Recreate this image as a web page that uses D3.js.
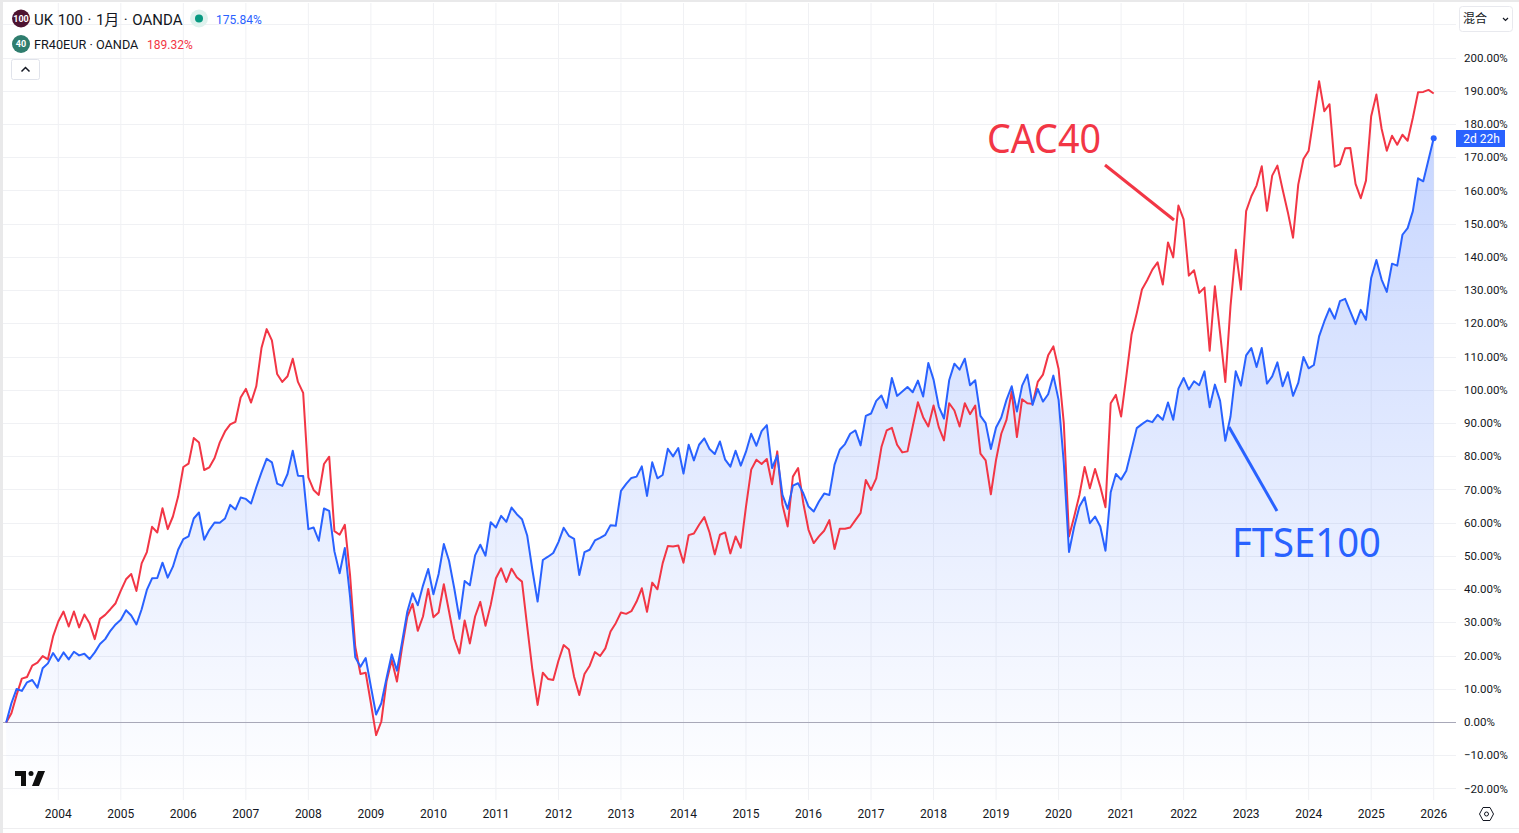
<!DOCTYPE html>
<html>
<head>
<meta charset="utf-8">
<script src="https://cdnjs.cloudflare.com/ajax/libs/d3/7.8.5/d3.min.js"></script>
<style>
html, body { margin: 0; padding: 0; background: #fff; overflow: hidden; }
svg { display: block; }
text { font-family: Roboto, "Noto Sans CJK SC", sans-serif; }
.tick-label { font-size: 12px; fill: #131722; }
</style>
</head>
<body>
<svg id="chart" width="1519" height="833"></svg>
<script>
var startDate = new Date(2003, 2, 1);

var ftseValues = [
  0, 5.8, 10.1, 9.5, 12.1, 12.8, 10.5, 16.3, 17.8, 20.9, 18.5, 21.1, 19, 21.3, 20.2, 20.7, 19.1, 21.1, 23.6, 25.1,
  27.6, 29.5, 30.9, 33.8, 32.2, 29.5, 34.1, 39.9, 43.4, 43.5, 48.1, 43.6, 46.9, 52, 55.2, 56, 61.4, 63.2, 55, 58,
  60.2, 60.1, 61.4, 65.5, 64.1, 67.7, 67.3, 65.9, 70.8, 75.3, 79.4, 78.3, 71.9, 71.2, 74.8, 81.8, 74.3, 74.2, 58.2, 58.7,
  54.7, 64.4, 63.7, 51.5, 44.9, 52.5, 37.9, 19.6, 16.8, 19.4, 10.8, 2.4, 5.8, 13.3, 20.5, 15.6, 24.3, 33.4, 38.9, 35.3,
  41.2, 46.2, 38.6, 44.7, 53.7, 48.7, 40.4, 31.2, 42.6, 41.3, 50.3, 53.5, 50.2, 60.3, 58.7, 62.2, 60.4, 64.7, 62.7, 61.2,
  56.3, 45.9, 36.4, 48.9, 49.9, 51, 54.3, 58.6, 56.2, 55.3, 44.4, 51.3, 52, 54.8, 55.6, 56.5, 59.4, 59.2, 69.7, 71.8,
  73.6, 74, 77.1, 68.2, 78.3, 73.5, 74.5, 82.4, 80.1, 82.6, 74.9, 83.6, 78.9, 83.6, 85.5, 82.3, 80.8, 84.6, 79.1, 77,
  81.8, 77.3, 81.5, 86.9, 83.3, 87.7, 89.5, 76.6, 80.4, 68.5, 64.3, 71.3, 72, 69, 65, 63.5, 66.5, 68.9, 68.5, 77.6,
  82.1, 83.8, 86.9, 87.9, 83.4, 92.3, 93, 96.8, 98.4, 94.7, 103.7, 98.3, 99.6, 101, 99.4, 102.9, 98.1, 108.2, 103.2, 95.1,
  91.5, 103, 108, 106.2, 109.5, 101.5, 103, 92.3, 90.1, 82.3, 88.8, 91.8, 97.1, 101.2, 93.6, 101.4, 104.7, 95.6, 100.4, 96.6,
  98.8, 104.4, 97.1, 78.1, 51.3, 59, 65, 67.8, 60, 62, 59, 51.7, 69.3, 74.8, 73.1, 75.8, 82.1, 88.6, 89.8, 90.9,
  90.4, 92.6, 91.1, 96.3, 91.1, 100.5, 103.7, 100.2, 102.7, 101.5, 105.7, 94.9, 101.7, 96.8, 84.8, 92.1, 105.7, 101.4, 110.5, 112.7,
  107, 112.7, 102, 104.2, 108.4, 101.2, 105.4, 98.3, 102.2, 110, 106.6, 107.6, 116.2, 120.7, 124.6, 121.5, 126.8, 127.5, 123.7, 119.9,
  124.2, 121.2, 133.8, 139.2, 133.3, 129.6, 138.1, 137.5, 146.8, 148.8, 153.9, 163.8, 162.9, 169.4, 175.84
];

var cacValues = [
  0, 2.8, 8.3, 13.2, 13.7, 17.1, 18, 20, 19, 25.9, 30.4, 33.4, 28.9, 33.4, 28.6, 32.5, 29.9, 25.1, 31.2, 32.4,
  34.1, 35.9, 39.7, 43.1, 44.7, 39.6, 47.9, 51.3, 58.9, 57.2, 64.5, 58.2, 62, 68, 76.9, 77.9, 85.6, 84.3, 76, 76.8,
  79.6, 84.3, 87.6, 89.7, 90.5, 97.8, 100.4, 96.3, 101.2, 112.7, 118.4, 115, 104.9, 102.5, 104.2, 109.5, 102.5, 99.2, 73.8, 70,
  68.5, 77.8, 80, 57.6, 56.5, 59.5, 44.4, 22.8, 14.6, 15, 5.8, -3.8, 0.3, 12.3, 18.8, 12.3, 22.8, 31.9, 35.7, 27.6,
  31.9, 40.2, 31.7, 33.1, 41.6, 33.4, 25.2, 20.8, 30.7, 23.8, 31.9, 36.3, 29.1, 35.4, 43.4, 46.4, 42.3, 46.3, 43.7, 42.4,
  28.9, 15.8, 5.3, 15, 13.1, 12.8, 18.6, 23.3, 22, 13.8, 8.3, 14.6, 17.1, 21.2, 20, 22.3, 27.4, 29.9, 33.1, 32.7,
  33.5, 36.4, 40.4, 33.3, 42.1, 40.1, 47.9, 53.1, 53, 53.3, 48.1, 56.4, 56.9, 59.5, 61.8, 57.2, 50.6, 56.5, 57.2, 50.9,
  56, 52.6, 65, 76.1, 79.1, 77.8, 79.3, 71.7, 81.6, 65.5, 59, 74, 76.6, 66, 58, 54, 56, 57.7, 60.9, 52.2,
  58.3, 58.3, 58.7, 60.9, 63.1, 73, 70, 73.5, 82.9, 87.9, 88.7, 83.6, 81.3, 81.6, 89.1, 96.4, 91.9, 89.1, 95.4, 88.9,
  84.9, 96.1, 93.9, 89.1, 96.1, 92.8, 95.4, 80.9, 78.9, 68.7, 79.1, 86.9, 91.1, 99.6, 85.9, 97.3, 96.1, 95.9, 102.5, 104.7,
  110.5, 113.2, 106.4, 90.1, 56, 62, 68.5, 76.9, 70.5, 76.3, 71, 64.8, 96.1, 98.6, 92.1, 104.2, 116.7, 123.2, 130.3, 133.1,
  136.3, 138.5, 131.8, 144.5, 140, 155.6, 151.4, 134.5, 136.1, 129.3, 130.9, 111.9, 131.3, 117.2, 102.5, 125.3, 142.3, 130.3, 153.9, 158.4,
  161.6, 167.4, 154, 164.6, 167.6, 160.4, 153.6, 145.9, 161.9, 169.6, 172.1, 182.5, 193, 184, 186.1, 167.3, 168, 172.8, 172.9, 162.1,
  157.8, 163.1, 182.5, 189, 178.7, 172.1, 176.6, 173.9, 176.9, 175.1, 182, 189.7, 189.8, 190.4, 189.32
];

var yearTicks = d3.range(2004, 2027);
var percentTicks = d3.range(-20, 201, 10);

var BLUE = '#2962ff';
var RED = '#f23645';
var GRID = '#f0f1f4';

var svg = d3.select('#chart');

var x = d3.scaleLinear().domain([0, 274]).range([6.2, 1433.7]);
var y = d3.scaleLinear().domain([0, 200]).range([722.5, 58]);

function monthIndex(year) {
  return (year - startDate.getFullYear()) * 12 - startDate.getMonth();
}

// background grid
var gridV = svg.append('g');
yearTicks.forEach(function(year) {
  gridV.append('line')
    .attr('x1', x(monthIndex(year))).attr('x2', x(monthIndex(year)))
    .attr('y1', 3).attr('y2', 800)
    .attr('stroke', GRID);
});
var gridH = svg.append('g');
percentTicks.concat([210]).forEach(function(p) {
  gridH.append('line')
    .attr('x1', 3).attr('x2', 1456)
    .attr('y1', Math.floor(y(p)) + 0.5).attr('y2', Math.floor(y(p)) + 0.5)
    .attr('stroke', GRID);
});

// area gradient, strong at the last high and fading down to the pane bottom
var defs = svg.append('defs');
var grad = defs.append('linearGradient')
  .attr('id', 'areaFill')
  .attr('gradientUnits', 'userSpaceOnUse')
  .attr('x1', 0).attr('x2', 0).attr('y1', y(175.84)).attr('y2', 800);
grad.append('stop').attr('offset', 0).attr('stop-color', BLUE).attr('stop-opacity', 0.26);
grad.append('stop').attr('offset', 1).attr('stop-color', BLUE).attr('stop-opacity', 0);

var area = d3.area()
  .x(function(d, i) { return x(i); })
  .y0(800)
  .y1(function(d) { return y(d); });
svg.append('path').datum(ftseValues).attr('d', area).attr('fill', 'url(#areaFill)');

// zero line
svg.append('line')
  .attr('x1', 3).attr('x2', 1456)
  .attr('y1', Math.floor(y(0)) + 0.5).attr('y2', Math.floor(y(0)) + 0.5)
  .attr('stroke', '#a8a8b8');

var line = d3.line()
  .x(function(d, i) { return x(i); })
  .y(function(d) { return y(d); });
svg.append('path').datum(cacValues).attr('d', line)
  .attr('fill', 'none').attr('stroke', RED).attr('stroke-width', 2).attr('stroke-linejoin', 'round');
svg.append('path').datum(ftseValues).attr('d', line)
  .attr('fill', 'none').attr('stroke', BLUE).attr('stroke-width', 2).attr('stroke-linejoin', 'round');
svg.append('circle')
  .attr('cx', x(274)).attr('cy', y(175.84)).attr('r', 3).attr('fill', BLUE);

// annotations drawn on the chart by hand
svg.append('line').attr('x1', 1105).attr('y1', 165).attr('x2', 1174).attr('y2', 220)
  .attr('stroke', RED).attr('stroke-width', 3);
svg.append('line').attr('x1', 1229).attr('y1', 427).attr('x2', 1277).attr('y2', 511)
  .attr('stroke', BLUE).attr('stroke-width', 3);
svg.append('text').attr('x', 987).attr('y', 153).text('CAC40')
  .attr('fill', RED).attr('textLength', 114).attr('lengthAdjust', 'spacingAndGlyphs')
  .style('font-family', '"Noto Sans", sans-serif').style('font-size', '40px');
svg.append('text').attr('x', 1232).attr('y', 557).text('FTSE100')
  .attr('fill', BLUE).attr('textLength', 149).attr('lengthAdjust', 'spacingAndGlyphs')
  .style('font-family', '"Noto Sans", sans-serif').style('font-size', '40px');

// axes
var axisY = svg.append('g');
axisY.selectAll('text').data(percentTicks).enter().append('text')
  .attr('class', 'tick-label')
  .style('font-size', '11.5px')
  .attr('x', 1464).attr('y', function(p) { return y(p) + 3.6; })
  .text(function(p) { return (p < 0 ? '\u2212' + Math.abs(p) : p) + '.00%'; });

var axisX = svg.append('g');
axisX.selectAll('text').data(yearTicks).enter().append('text')
  .attr('class', 'tick-label')
  .attr('x', function(year) { return x(monthIndex(year)); })
  .attr('y', 818)
  .attr('text-anchor', 'middle')
  .text(function(year) { return year; });

// countdown label
svg.append('rect').attr('x', 1456).attr('y', 130).attr('width', 49).attr('height', 17).attr('fill', BLUE);
svg.append('text').attr('x', 1481.5).attr('y', 143).attr('text-anchor', 'middle')
  .attr('class', 'tick-label').style('fill', '#fff').text('2d 22h');

// outer frame
svg.append('rect').attr('x', 0).attr('y', 0).attr('width', 3).attr('height', 833).attr('fill', '#e9e9ea');
svg.append('rect').attr('x', 0).attr('y', 0).attr('width', 1519).attr('height', 2).attr('fill', '#e9e9ea');
svg.append('line').attr('x1', 3).attr('x2', 1519).attr('y1', 828.5).attr('y2', 828.5).attr('stroke', '#eeeef0');

// legend
function badge(cx, cy, r, color, label) {
  svg.append('circle').attr('cx', cx).attr('cy', cy).attr('r', r).attr('fill', color);
  svg.append('text').attr('x', cx).attr('y', cy + 3).attr('text-anchor', 'middle')
    .attr('fill', '#fff').style('font-size', '9px').style('font-weight', 700).text(label);
}
badge(21, 18.5, 9, '#4d1330', '100');
badge(21, 44, 9, '#2f7d6e', '40');
svg.append('text').attr('x', 34).attr('y', 25).attr('fill', '#131722')
  .style('font-size', '15px').style('word-spacing', '0.8px').text('UK 100 \u00b7 1\u6708 \u00b7 OANDA');
svg.append('circle').attr('cx', 199).attr('cy', 18.5).attr('r', 9).attr('fill', '#dff2ee');
svg.append('circle').attr('cx', 199).attr('cy', 18.5).attr('r', 4).attr('fill', '#089981');
svg.append('text').attr('x', 216).attr('y', 24).attr('fill', BLUE)
  .style('font-size', '12px').text('175.84%');
svg.append('text').attr('x', 34).attr('y', 49).attr('fill', '#131722')
  .style('font-size', '12.7px').text('FR40EUR \u00b7 OANDA');
svg.append('text').attr('x', 147).attr('y', 49).attr('fill', RED)
  .style('font-size', '12px').text('189.32%');

// collapse button
svg.append('rect').attr('x', 11.5).attr('y', 59.5).attr('width', 28).attr('height', 20).attr('rx', 2)
  .attr('fill', '#fff').attr('stroke', '#e0e3eb');
svg.append('path').attr('d', 'M21.5 71.5l4-4 4 4').attr('fill', 'none').attr('stroke', '#131722').attr('stroke-width', 1.5);

// scale mode dropdown
svg.append('rect').attr('x', 1459.5).attr('y', 6.5).attr('width', 53).attr('height', 25).attr('rx', 3)
  .attr('fill', '#fff').attr('stroke', '#e8e9ee');
svg.append('text').attr('x', 1463).attr('y', 23).attr('fill', '#131722').style('font-size', '12px').text('\u6df7\u5408');
svg.append('path').attr('d', 'M1503 18l2.5 2.5 2.5-2.5').attr('fill', 'none').attr('stroke', '#131722').attr('stroke-width', 1.2);

// tradingview mark
svg.append('path').attr('d', 'M15 771h11v15h-5v-10h-6z').attr('fill', '#0f0f0f');
svg.append('circle').attr('cx', 31).attr('cy', 773.5).attr('r', 2.5).attr('fill', '#0f0f0f');
svg.append('path').attr('d', 'M38 771h7l-6 15h-7z').attr('fill', '#0f0f0f');

// settings glyph
svg.append('path').attr('d', 'M1479.5 814l3.5-6.5h7l3.5 6.5-3.5 6.5h-7z').attr('fill', 'none').attr('stroke', '#131722');
svg.append('circle').attr('cx', 1486.5).attr('cy', 814).attr('r', 2).attr('fill', 'none').attr('stroke', '#131722');
</script>
</body>
</html>
